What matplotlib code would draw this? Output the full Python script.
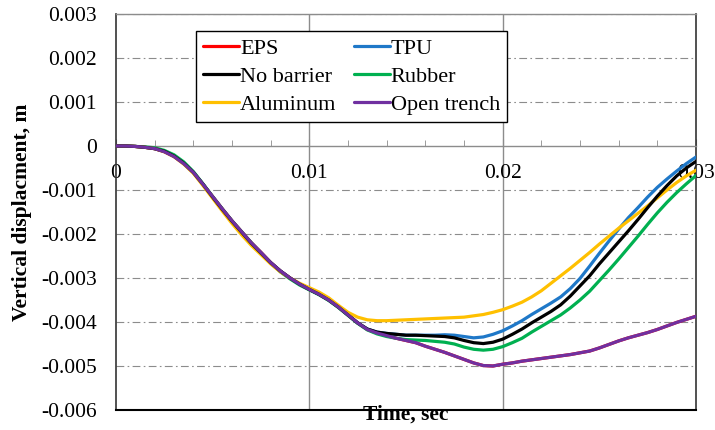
import numpy as np
import matplotlib
matplotlib.use("Agg")
import matplotlib.pyplot as plt
from matplotlib.ticker import MultipleLocator, FuncFormatter

plt.rcParams['font.family'] = ['Liberation Serif', 'DejaVu Serif']
plt.rcParams['axes.unicode_minus'] = False

# Time samples (s), every 0.5 ms
time = np.round(np.arange(61) * 0.0005, 4)

# Vertical displacement (m) for each barrier case
open_trench = [0, 0, -0.00001, -0.00003, -0.00006, -0.00013, -0.00024, -0.0004, -0.0006, -0.00087,
               -0.00115, -0.00143, -0.0017, -0.00195, -0.0022, -0.00242, -0.00265, -0.00284, -0.003, -0.00314,
               -0.00326, -0.00337, -0.0035, -0.00366, -0.00384,
               -0.00402, -0.00417, -0.00425, -0.00431, -0.00437, -0.00442, -0.00447, -0.00455, -0.00462, -0.00469,
               -0.00477, -0.00485, -0.00493, -0.00499, -0.005, -0.00496, -0.00493, -0.00489, -0.00486, -0.00483,
               -0.0048, -0.00477, -0.00474, -0.0047, -0.00466, -0.00459, -0.00451, -0.00443, -0.00436, -0.0043,
               -0.00424, -0.00417, -0.00409, -0.00401, -0.00394, -0.00387]
eps = [0, 0, -0.00001, -0.00003, -0.00006, -0.00013, -0.00024, -0.0004, -0.0006, -0.00087,
       -0.00115, -0.00143, -0.0017, -0.00195, -0.0022, -0.00242, -0.00265, -0.00284, -0.003, -0.00314,
       -0.00326, -0.00337, -0.0035, -0.00366, -0.00384,
       -0.00402, -0.00417, -0.00425, -0.00431, -0.00437, -0.00442, -0.00447, -0.00455, -0.00462, -0.00469,
       -0.00477, -0.00485, -0.00493, -0.00499, -0.005, -0.00496, -0.00493, -0.00489, -0.00486, -0.00483,
       -0.0048, -0.00477, -0.00474, -0.0047, -0.00466, -0.00459, -0.00451, -0.00443, -0.00436, -0.0043,
       -0.00424, -0.00417, -0.00409, -0.00401, -0.00394, -0.00387]
no_barrier = [0, 0, -0.00001, -0.00003, -0.00006, -0.00012, -0.00023, -0.00039, -0.0006, -0.00087,
              -0.00116, -0.00144, -0.00171, -0.00196, -0.00221, -0.00243, -0.00265, -0.00284, -0.003, -0.00314,
              -0.00326, -0.00337, -0.0035, -0.00366, -0.00384,
              -0.00402, -0.00416, -0.00423, -0.00426, -0.00428, -0.0043, -0.0043, -0.00431, -0.00432, -0.00433,
              -0.00436, -0.00442, -0.00447, -0.00449, -0.00446, -0.00439, -0.00428, -0.00416, -0.00402, -0.00389,
              -0.00376, -0.00361, -0.00341, -0.00318, -0.00295, -0.00268, -0.00243, -0.00218, -0.00193, -0.00167,
              -0.0014, -0.00114, -0.0009, -0.00068, -0.0005, -0.00035]
tpu = [0, 0, -0.00001, -0.00003, -0.00006, -0.00012, -0.00023, -0.00039, -0.0006, -0.00087,
       -0.00116, -0.00144, -0.00171, -0.00196, -0.00221, -0.00243, -0.00265, -0.00284, -0.003, -0.00314,
       -0.00326, -0.00337, -0.0035, -0.00366, -0.00384,
       -0.00402, -0.00416, -0.00423, -0.00426, -0.00428, -0.0043, -0.0043, -0.0043, -0.0043, -0.00429,
       -0.0043, -0.00433, -0.00436, -0.00434, -0.00428, -0.0042, -0.00409, -0.00397, -0.00383, -0.0037,
       -0.00357, -0.00343, -0.00324, -0.00301, -0.00273, -0.00244, -0.00216, -0.00189, -0.00163, -0.0014,
       -0.00116, -0.00094, -0.00075, -0.00057, -0.0004, -0.00025]
rubber = [0, 0, -0.00001, -0.00002, -0.00004, -0.0001, -0.0002, -0.00036, -0.00058, -0.00086,
          -0.00115, -0.00143, -0.0017, -0.00195, -0.0022, -0.00243, -0.00266, -0.00286, -0.00302, -0.00316,
          -0.00327, -0.00338, -0.00351, -0.00367, -0.00385,
          -0.00403, -0.00418, -0.00427, -0.00433, -0.00437, -0.0044, -0.00441, -0.00442, -0.00444, -0.00446,
          -0.0045, -0.00457, -0.00462, -0.00464, -0.00462, -0.00456, -0.00447, -0.00437, -0.00423, -0.0041,
          -0.00397, -0.00384, -0.00368, -0.0035, -0.0033, -0.00306, -0.00282, -0.00257, -0.00231, -0.00205,
          -0.00178, -0.00152, -0.00128, -0.00106, -0.00086, -0.00067]
aluminum = [0, 0, -0.00001, -0.00003, -0.00006, -0.00013, -0.00024, -0.00041, -0.00062, -0.0009,
            -0.00119, -0.00148, -0.00176, -0.00202, -0.00226, -0.00247, -0.00268, -0.00286, -0.003, -0.00312,
            -0.00322, -0.00332, -0.00345, -0.00362, -0.00378,
            -0.00389, -0.00395, -0.00397, -0.00397, -0.00396, -0.00395, -0.00394, -0.00393, -0.00392, -0.00391,
            -0.0039, -0.00389, -0.00386, -0.00383, -0.00378, -0.00372, -0.00364, -0.00355, -0.00343, -0.00329,
            -0.00312, -0.00295, -0.00278, -0.0026, -0.00242, -0.00223, -0.00205, -0.00187, -0.0017, -0.00153,
            -0.00136, -0.00118, -0.001, -0.00083, -0.00068, -0.00055]

series = {
    "EPS": (eps, "#FF0000"),
    "TPU": (tpu, "#1F78C8"),
    "Rubber": (rubber, "#00B050"),
    "Aluminum": (aluminum, "#FFC000"),
    "No barrier": (no_barrier, "#000000"),
    "Open trench": (open_trench, "#7030A0"),
}
legend_order = ["EPS", "No barrier", "Aluminum", "TPU", "Rubber", "Open trench"]

fig = plt.figure(figsize=(7.15, 4.30), dpi=100)
ax = fig.add_axes([116 / 715, 20 / 430, 580 / 715, 396 / 430])

handles = {}
for name, (vals, col) in series.items():
    (ln,) = ax.plot(time, vals, color=col, lw=2.3, label=name, zorder=3,
                    solid_capstyle='round', solid_joinstyle='round')
    handles[name] = ln

ax.set_xlim(0, 0.03)
ax.set_ylim(-0.006, 0.003)

# y axis: ticks every 0.001, dash-dot grid
ax.yaxis.set_major_locator(MultipleLocator(0.001))
ax.yaxis.set_major_formatter(FuncFormatter(lambda v, p: "0" if abs(v) < 1e-9 else f"{v:.3f}"))
ax.tick_params(axis='y', length=0, pad=14, labelsize=15.5)
for yv in np.arange(-0.005, 0.0031, 0.001):
    if abs(yv) > 1e-9:
        ax.axhline(yv, color='#8c8c8c', lw=0.8, linestyle=(0, (7, 3, 1.5, 3)), zorder=1)

# x axis drawn through y = 0
ax.spines['bottom'].set_position(('data', 0))
ax.spines['bottom'].set_color('#8c8c8c')
ax.spines['bottom'].set_linewidth(1.0)
ax.xaxis.set_major_locator(MultipleLocator(0.01))
ax.xaxis.set_minor_locator(MultipleLocator(0.002))
ax.xaxis.set_major_formatter(FuncFormatter(lambda v, p: "0" if abs(v) < 1e-9 else f"{v:.2f}"))
ax.tick_params(axis='x', which='major', direction='in', length=5, color='#8c8c8c', pad=13, labelsize=15.5)
ax.tick_params(axis='x', which='minor', direction='in', length=4, color='#8c8c8c')
for xv in (0.01, 0.02):
    ax.axvline(xv, color='#8c8c8c', lw=1.0, zorder=1)

# frame
ax.axhline(-0.006, color='black', lw=1.5, zorder=4, clip_on=False)
ax.spines['left'].set_color('#333333')
ax.spines['left'].set_linewidth(1.2)
ax.spines['top'].set_color('#8c8c8c')
ax.spines['top'].set_linewidth(1.0)
ax.spines['right'].set_color('#333333')
ax.spines['right'].set_linewidth(1.2)

ax.set_ylabel("Vertical displacment, m", fontsize=15.5, fontweight='bold', labelpad=6)
ax.text(0.5, -0.012, "Time, sec", transform=ax.transAxes, ha='center', va='center',
        fontsize=15.5, fontweight='bold')

leg = ax.legend([handles[n] for n in legend_order], legend_order, ncol=2,
                loc='upper left', bbox_to_anchor=(0.138, 0.957), borderaxespad=0,
                fontsize=16, handlelength=1.6, handletextpad=0.05, columnspacing=0.8,
                labelspacing=0.33, borderpad=0.33, frameon=True, fancybox=False,
                framealpha=1, edgecolor='black')
leg.get_frame().set_linewidth(1.0)
leg.set_zorder(5)

fig.savefig("out.png", dpi=100)
